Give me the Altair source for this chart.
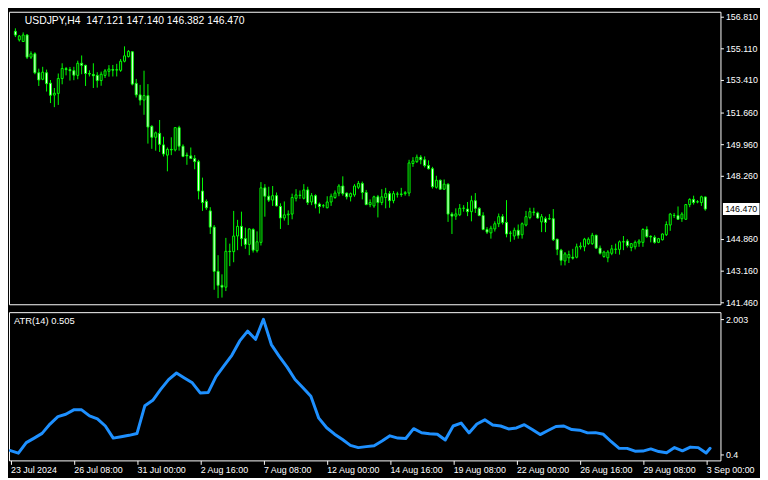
import altair as alt
import pandas as pd

symbol = "USDJPY,H4"

opens = [156.03, 155.57, 155.48, 155.83, 154.64, 154.82, 153.80, 153.45, 153.80, 153.24,
         152.60, 152.69, 153.49, 154.02, 153.97, 153.91, 153.66, 154.31, 154.20, 153.76,
         153.71, 153.66, 153.38, 153.66, 153.88, 153.97, 153.94, 153.93, 154.42, 154.67,
         154.93, 153.23, 152.61, 152.33, 152.57, 150.92, 150.33, 150.54, 149.92, 149.37,
         149.68, 149.65, 150.85, 149.85, 149.37, 149.33, 149.19, 149.02, 147.44, 146.88,
         146.37, 145.50, 143.12, 142.37, 142.27, 144.20, 144.18, 145.02, 145.54, 144.88,
         144.57, 145.37, 144.23, 144.68, 147.61, 147.16, 146.95, 147.19, 146.61, 145.99,
         146.16, 146.20, 147.05, 147.22, 147.05, 147.50, 146.85, 147.19, 146.74, 146.65,
         146.54, 146.85, 147.09, 147.33, 147.71, 147.33, 147.13, 147.23, 147.64, 147.85,
         147.36, 146.71, 146.64, 147.13, 146.82, 147.09, 147.30, 146.92, 147.27, 147.28,
         147.30, 147.33, 148.92, 149.02, 149.26, 149.12, 148.81, 148.64, 147.64, 148.02,
         147.54, 147.81, 146.20, 146.09, 146.16, 146.51, 146.47, 146.33, 146.92, 146.51,
         146.12, 145.37, 145.19, 145.40, 145.68, 146.06, 145.75, 145.18, 145.02, 145.33,
         145.09, 145.61, 146.02, 146.29, 146.26, 145.78, 145.95, 145.95, 145.95, 144.85,
         144.26, 143.68, 143.85, 143.88, 143.88, 144.43, 144.44, 144.61, 144.61, 145.06,
         144.37, 143.92, 143.85, 144.09, 144.30, 144.30, 144.71, 144.75, 144.40, 144.44,
         144.64, 144.68, 145.37, 145.00, 144.95, 144.68, 144.82, 145.09, 145.61, 146.13,
         146.12, 145.95, 145.92, 146.71, 146.99, 146.86, 146.82, 147.121]
highs = [156.19, 155.83, 155.97, 155.88, 154.95, 154.90, 154.02, 154.12, 153.97, 153.41,
         152.98, 153.76, 154.31, 154.11, 154.11, 154.12, 154.45, 154.73, 154.23, 153.93,
         154.31, 153.83, 153.86, 154.00, 154.21, 154.22, 154.28, 154.54, 155.22, 155.02,
         154.95, 153.47, 153.15, 153.91, 153.19, 150.98, 150.64, 151.26, 150.36, 149.78,
         150.33, 150.86, 150.95, 149.95, 149.51, 149.78, 149.37, 149.12, 148.16, 146.99,
         146.57, 145.61, 143.99, 142.96, 144.92, 144.61, 146.37, 145.89, 146.33, 145.47,
         145.44, 145.44, 145.27, 147.92, 147.81, 147.67, 147.71, 147.36, 146.78, 146.88,
         146.40, 147.30, 147.54, 147.47, 147.81, 147.67, 147.33, 147.26, 146.82, 146.74,
         147.16, 147.30, 147.47, 147.81, 148.23, 147.36, 147.36, 147.81, 147.98, 147.95,
         147.50, 146.99, 147.19, 147.23, 147.54, 147.61, 147.44, 147.44, 147.40, 147.61,
         147.44, 149.12, 149.26, 149.40, 149.37, 149.30, 149.09, 148.74, 148.26, 148.06,
         148.06, 147.85, 146.30, 146.51, 146.74, 146.68, 146.85, 147.19, 147.33, 146.57,
         146.30, 145.50, 145.57, 145.81, 146.23, 146.20, 146.95, 145.30, 145.47, 145.64,
         145.75, 146.37, 146.54, 146.54, 146.33, 146.20, 146.06, 146.20, 146.47, 144.87,
         144.33, 144.16, 144.23, 144.33, 144.61, 144.68, 144.92, 144.95, 145.19, 145.09,
         144.51, 144.23, 144.26, 144.54, 144.61, 144.78, 145.02, 144.85, 144.64, 144.78,
         144.85, 145.44, 145.54, 145.06, 145.06, 144.92, 145.16, 145.81, 146.26, 146.26,
         146.61, 146.30, 146.74, 147.05, 147.19, 146.95, 147.19, 147.140]
lows = [155.72, 155.48, 155.47, 154.54, 154.54, 153.72, 153.09, 153.40, 152.79, 152.17,
        151.95, 152.07, 153.18, 153.66, 153.38, 153.40, 153.45, 153.72, 153.09, 153.60,
        152.98, 153.00, 153.10, 153.52, 153.59, 153.60, 153.60, 153.85, 154.36, 154.62,
        153.12, 152.47, 152.05, 151.54, 149.99, 149.71, 149.61, 149.54, 149.30, 148.50,
        149.37, 149.57, 149.61, 149.26, 148.85, 149.16, 148.61, 146.99, 146.37, 146.43,
        145.13, 142.13, 141.68, 141.71, 142.06, 143.40, 143.61, 144.26, 144.47, 144.33,
        143.99, 144.13, 144.13, 144.51, 146.06, 146.85, 146.64, 146.61, 145.40, 145.85,
        145.61, 145.92, 146.88, 147.02, 146.99, 146.69, 146.68, 146.51, 146.23, 146.54,
        146.51, 146.64, 147.02, 147.16, 147.19, 146.99, 146.88, 147.13, 147.54, 146.99,
        146.68, 146.57, 146.54, 146.02, 146.68, 146.51, 146.54, 146.78, 147.09, 147.13,
        147.19, 147.16, 148.74, 148.95, 148.88, 148.71, 148.60, 147.57, 147.57, 147.50,
        147.50, 145.78, 145.13, 145.89, 146.09, 146.33, 146.09, 145.81, 146.26, 146.09,
        145.33, 145.13, 144.88, 145.26, 145.50, 145.64, 144.95, 144.71, 144.82, 144.88,
        144.88, 145.54, 145.92, 146.12, 145.95, 145.23, 145.23, 145.89, 144.75, 143.99,
        143.44, 143.44, 143.57, 143.75, 143.82, 144.30, 144.20, 144.54, 144.54, 144.33,
        144.02, 143.85, 143.61, 143.99, 144.06, 144.02, 144.26, 144.40, 144.20, 144.30,
        144.44, 144.44, 144.92, 144.68, 144.61, 144.64, 144.78, 145.02, 145.30, 145.99,
        145.90, 145.78, 145.90, 146.57, 146.71, 146.78, 146.64, 146.382]
closes = [155.83, 155.78, 155.83, 154.64, 154.82, 153.80, 153.41, 153.83, 153.21, 152.59,
          152.70, 153.49, 154.03, 153.97, 153.91, 153.67, 154.31, 154.20, 153.76, 153.73,
          153.64, 153.38, 153.72, 153.90, 154.00, 153.94, 153.97, 154.42, 154.71, 154.95,
          153.19, 152.61, 152.33, 152.57, 150.88, 150.33, 150.57, 149.95, 149.43, 149.68,
          149.65, 150.85, 149.85, 149.30, 149.33, 149.19, 149.02, 147.44, 146.82, 146.54,
          145.50, 143.12, 142.37, 142.27, 144.20, 144.18, 145.02, 145.54, 144.88, 144.57,
          145.40, 144.26, 144.71, 147.61, 147.16, 146.95, 147.19, 146.64, 145.99, 146.16,
          146.20, 147.09, 147.23, 147.20, 147.50, 146.82, 147.19, 146.74, 146.61, 146.65,
          146.85, 147.16, 147.33, 147.71, 147.30, 147.13, 147.30, 147.71, 147.85, 147.36,
          146.71, 146.82, 147.13, 146.82, 147.13, 147.30, 146.92, 147.30, 147.28, 147.26,
          147.35, 148.95, 149.06, 149.26, 149.12, 148.81, 148.64, 147.67, 148.02, 147.54,
          147.81, 146.20, 146.09, 146.21, 146.51, 146.52, 146.33, 146.92, 146.51, 146.12,
          145.37, 145.23, 145.44, 145.68, 146.06, 145.75, 145.13, 145.17, 145.33, 145.06,
          145.68, 146.06, 146.33, 146.31, 145.99, 146.06, 145.75, 145.94, 144.82, 144.30,
          143.71, 144.06, 144.02, 143.83, 144.44, 144.48, 144.85, 144.85, 145.06, 144.37,
          144.09, 144.16, 144.16, 144.33, 144.32, 144.71, 144.70, 144.51, 144.61, 144.68,
          144.75, 145.37, 144.99, 144.97, 144.68, 144.88, 145.13, 145.64, 146.20, 146.12,
          145.92, 146.20, 146.71, 146.99, 146.82, 146.85, 147.13, 146.470]

atr_bars = list(range(0, 177, 2)) + [177]
atr_values = [0.443, 0.412, 0.537, 0.591, 0.647, 0.758, 0.846, 0.875, 0.927, 0.927,
              0.855, 0.820, 0.735, 0.591, 0.607, 0.624, 0.645, 0.976, 1.040, 1.170,
              1.287, 1.365, 1.306, 1.248, 1.128, 1.132, 1.322, 1.450, 1.575, 1.746,
              1.863, 1.765, 2.003, 1.703, 1.563, 1.435, 1.287, 1.190, 1.088, 0.828,
              0.714, 0.638, 0.574, 0.505, 0.478, 0.490, 0.501, 0.556, 0.618, 0.591,
              0.587, 0.703, 0.654, 0.642, 0.636, 0.568, 0.735, 0.770, 0.653, 0.758,
              0.808, 0.747, 0.735, 0.700, 0.712, 0.750, 0.694, 0.633, 0.682, 0.729,
              0.735, 0.693, 0.685, 0.653, 0.656, 0.636, 0.548, 0.470, 0.469, 0.436,
              0.437, 0.463, 0.431, 0.416, 0.478, 0.440, 0.484, 0.478, 0.414, 0.470]
atr_label_value = 0.505

time_labels = ["23 Jul 2024", "26 Jul 08:00", "31 Jul 00:00", "2 Aug 16:00",
               "7 Aug 08:00", "12 Aug 00:00", "14 Aug 16:00", "19 Aug 08:00",
               "22 Aug 00:00", "26 Aug 16:00", "29 Aug 08:00", "3 Sep 00:00"]
label_bars = [16 * k for k in range(len(time_labels))]
price_ticks = [156.810, 155.110, 153.410, 151.660, 149.960, 148.260,
               144.860, 143.160, 141.460]
atr_ticks = [0.4, 2.003]
atr_tick_labels = ["0.4", "2.003"]

FONT = "Liberation Sans"
LIME = "#00FF00"
WHITE = "#FFFFFF"
W = 720

n = len(opens)
candles = pd.DataFrame({"bar": list(range(n)), "open": opens, "high": highs,
                        "low": lows, "close": closes})
atr_df = pd.DataFrame({"bar": atr_bars, "atr": atr_values})

x_scale = alt.Scale(domain=[-0.375, 179.625], nice=False, zero=False)
p_scale = alt.Scale(domain=[141.35, 157.08], nice=False, zero=False)
a_scale = alt.Scale(domain=[0.326, 2.088], nice=False, zero=False)

p_axis = alt.Axis(orient="right", values=price_ticks, format=".3f", title=None,
                  grid=False, domain=False, tickColor=WHITE, tickSize=3,
                  labelColor=WHITE, labelFont=FONT, labelFontSize=9,
                  labelPadding=2, labelOverlap=False, labelFlush=False)

base = alt.Chart(candles)
wicks = base.mark_rule(color=LIME, strokeWidth=1).encode(
    x=alt.X("bar:Q", scale=x_scale, axis=None),
    y=alt.Y("low:Q", scale=p_scale, axis=p_axis),
    y2="high:Q",
)
bodies = base.mark_bar(size=2, stroke=LIME, strokeWidth=1).encode(
    x=alt.X("bar:Q", scale=x_scale, axis=None),
    y=alt.Y("open:Q", scale=p_scale, axis=p_axis),
    y2="close:Q",
    fill=alt.condition("datum.close < datum.open", alt.value(WHITE), alt.value("#000000")),
)

NB = "\u00a0"
header = (f"{symbol}{NB}{NB}{opens[-1]:.3f}{NB}{highs[-1]:.3f}{NB}"
          f"{lows[-1]:.3f}{NB}{closes[-1]:.3f}")
header_text = alt.Chart(pd.DataFrame({"t": [header]})).mark_text(
    align="left", baseline="middle", color=WHITE, font=FONT, fontSize=10.5
).encode(text="t:N", x=alt.value(16), y=alt.value(9))

last_df = pd.DataFrame({"price": [closes[-1]], "label": [f"{closes[-1]:.3f}"]})
box_path = "M-1,-0.33L1,-0.33L1,0.33L-1,0.33Z"
price_box = alt.Chart(last_df).mark_point(
    shape=box_path, size=1369, filled=True, color=WHITE, opacity=1
).encode(x=alt.value(741), y=alt.Y("price:Q", scale=p_scale, axis=p_axis))
price_text = alt.Chart(last_df).mark_text(
    align="center", baseline="middle", color="#000000", font=FONT, fontSize=9
).encode(x=alt.value(741), y=alt.Y("price:Q", scale=p_scale, axis=p_axis), text="label:N")

top = alt.layer(wicks, bodies, header_text, price_box, price_text).properties(
    width=W, height=296)

label_expr = "[" + ",".join(f"'{t}'" for t in time_labels) + "][round(datum.value / 16)]"
x_axis = alt.Axis(values=label_bars, labelExpr=label_expr, title=None, grid=False,
                  domain=False, tickColor=WHITE, tickSize=4, labelColor=WHITE,
                  labelFont=FONT, labelFontSize=9, labelAlign="left",
                  labelPadding=1, labelOverlap=False, labelFlush=False, labelBound=False)
atr_label_expr = (f"datum.value < 1 ? '{atr_tick_labels[0]}' : '{atr_tick_labels[1]}'")
a_axis = alt.Axis(orient="right", values=atr_ticks, labelExpr=atr_label_expr, title=None,
                  grid=False, domain=False, tickColor=WHITE, tickSize=3,
                  labelColor=WHITE, labelFont=FONT, labelFontSize=9,
                  labelPadding=2, labelOverlap=False, labelFlush=False)

atr_line = alt.Chart(atr_df).mark_line(
    color="#1E90FF", strokeWidth=3, strokeJoin="round", strokeCap="round"
).encode(
    x=alt.X("bar:Q", scale=x_scale, axis=x_axis),
    y=alt.Y("atr:Q", scale=a_scale, axis=a_axis),
)
atr_text = alt.Chart(pd.DataFrame({"t": [f"ATR(14){NB}{atr_label_value:.3f}"]})).mark_text(
    align="left", baseline="middle", color=WHITE, font=FONT, fontSize=9.5
).encode(text="t:N", x=alt.value(5), y=alt.value(9))

bottom = alt.layer(atr_line, atr_text).properties(width=W, height=150)

chart = alt.vconcat(top, bottom, spacing=3).properties(
    background="#000000", padding=0
).configure_view(stroke=WHITE, strokeWidth=1)

chart.save("out.html", embed_options={"renderer": "svg", "actions": False})
